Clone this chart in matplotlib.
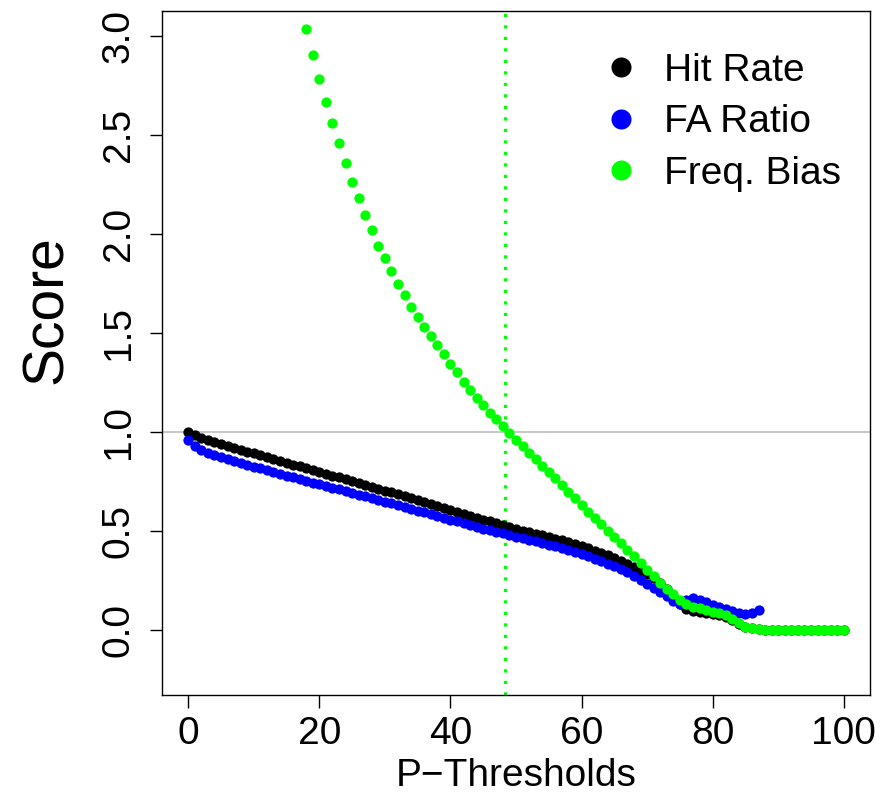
import numpy as np
import matplotlib
matplotlib.use("Agg")
import matplotlib.pyplot as plt

plt.rcParams['font.family'] = ['Liberation Sans', 'DejaVu Sans']

# thresholds (percent)
thresholds = list(range(0, 101))

# Hit Rate (0..100)
hit_rate = [1.000, 0.985, 0.973, 0.962, 0.952, 0.942, 0.932, 0.922, 0.912, 0.902,
            0.893, 0.884, 0.874, 0.865, 0.855, 0.846, 0.836, 0.827, 0.818, 0.808,
            0.799, 0.790, 0.780, 0.771, 0.762, 0.752, 0.743, 0.734, 0.724, 0.715,
            0.705, 0.696, 0.686, 0.677, 0.667, 0.657, 0.648, 0.638, 0.628, 0.618,
            0.608, 0.598, 0.588, 0.578, 0.568, 0.558, 0.549, 0.539, 0.530, 0.521,
            0.512, 0.503, 0.495, 0.487, 0.479, 0.471, 0.462, 0.453, 0.444, 0.434,
            0.424, 0.414, 0.402, 0.390, 0.377, 0.363, 0.349, 0.334, 0.318, 0.301,
            0.283, 0.262, 0.238, 0.208, 0.170, 0.130, 0.105, 0.097, 0.092, 0.087,
            0.082, 0.076, 0.068, 0.052, 0.032, 0.018, 0.010, 0.005, 0.0, 0.0,
            0.0, 0.0, 0.0, 0.0, 0.0, 0.0, 0.0, 0.0, 0.0, 0.0, 0.0]

# False alarm ratio (0..87)
fa_ratio = [0.960, 0.928, 0.908, 0.895, 0.884, 0.874, 0.864, 0.854, 0.844, 0.835,
            0.826, 0.817, 0.808, 0.799, 0.790, 0.781, 0.772, 0.763, 0.754, 0.745,
            0.737, 0.729, 0.720, 0.712, 0.703, 0.694, 0.685, 0.676, 0.667, 0.658,
            0.649, 0.640, 0.631, 0.622, 0.613, 0.604, 0.595, 0.586, 0.576, 0.567,
            0.558, 0.549, 0.540, 0.531, 0.522, 0.513, 0.504, 0.496, 0.488, 0.480,
            0.472, 0.464, 0.456, 0.448, 0.440, 0.432, 0.423, 0.414, 0.404, 0.394,
            0.384, 0.373, 0.361, 0.349, 0.336, 0.322, 0.307, 0.291, 0.273, 0.254,
            0.234, 0.213, 0.192, 0.170, 0.148, 0.132, 0.150, 0.160, 0.152, 0.142,
            0.128, 0.117, 0.106, 0.096, 0.087, 0.083, 0.088, 0.102]

# Frequency bias, visible part (18..100)
freq_bias = [3.035, 2.907, 2.782, 2.667, 2.563, 2.460, 2.362, 2.266, 2.182, 2.098,
             2.020, 1.942, 1.878, 1.814, 1.748, 1.691, 1.634, 1.582, 1.529, 1.484,
             1.438, 1.393, 1.342, 1.303, 1.255, 1.214, 1.175, 1.137, 1.098, 1.066,
             1.032, 0.997, 0.960, 0.928, 0.895, 0.863, 0.831, 0.799, 0.766, 0.733,
             0.700, 0.666, 0.632, 0.599, 0.566, 0.534, 0.503, 0.470, 0.438, 0.405,
             0.372, 0.338, 0.305, 0.272, 0.239, 0.208, 0.180, 0.152, 0.132, 0.118,
             0.110, 0.101, 0.093, 0.085, 0.075, 0.058, 0.036, 0.018, 0.008, 0.004,
             0.0, 0.0, 0.0, 0.0, 0.0, 0.0, 0.0, 0.0, 0.0, 0.0, 0.0, 0.0, 0.0]

best_threshold = 48.3

x_hit = thresholds[:len(hit_rate)]
x_fa = thresholds[:len(fa_ratio)]
x_fb = thresholds[18:18 + len(freq_bias)]

fig = plt.figure(figsize=(8.9, 8), dpi=100)
ax = fig.add_axes([0.182, 0.13125, 0.7955, 0.855])

ax.axhline(1.0, color='#c8c8c8', lw=1.5, zorder=1)
ax.axvline(best_threshold, color='#00ff00', lw=2.3, linestyle=(0, (1, 2.6)), zorder=2)

ms = 7.4
ax.plot(x_hit, hit_rate, 'o', color='black', ms=ms, mew=0, zorder=3, label='Hit Rate')
ax.plot(x_fa, fa_ratio, 'o', color='#0000ff', ms=ms, mew=0, zorder=4, label='FA Ratio')
ax.plot(x_fb, freq_bias, 'o', color='#00ff00', ms=ms, mew=0, zorder=5, label='Freq. Bias')

ax.set_xlim(-4, 104)
ax.set_ylim(-0.328, 3.128)
ax.set_xticks([0, 20, 40, 60, 80, 100])
ax.set_yticks([0, 0.5, 1, 1.5, 2, 2.5, 3])
ax.set_yticklabels(['0.0', '0.5', '1.0', '1.5', '2.0', '2.5', '3.0'], rotation=90, va='center')
ax.tick_params(axis='both', direction='out', length=9, width=1, labelsize=28, colors='black')
ax.tick_params(axis='x', pad=6)
ax.tick_params(axis='y', pad=9)
for s in ax.spines.values():
    s.set_linewidth(1.0)

fig.text(516 / 890, 1 - 776 / 800, 'P\u2212Thresholds', fontsize=28, ha='center', va='center')
fig.text(47 / 890, 1 - 310 / 800, 'Score', fontsize=41, ha='center', va='center', rotation=90)

leg = ax.legend(loc='upper left', bbox_to_anchor=(0.621, 0.939), frameon=False,
                fontsize=28, markerscale=1.95, handlelength=1.0, handletextpad=0.6,
                borderpad=0, borderaxespad=0, labelspacing=0.4)

fig.savefig('out.png', dpi=100)
